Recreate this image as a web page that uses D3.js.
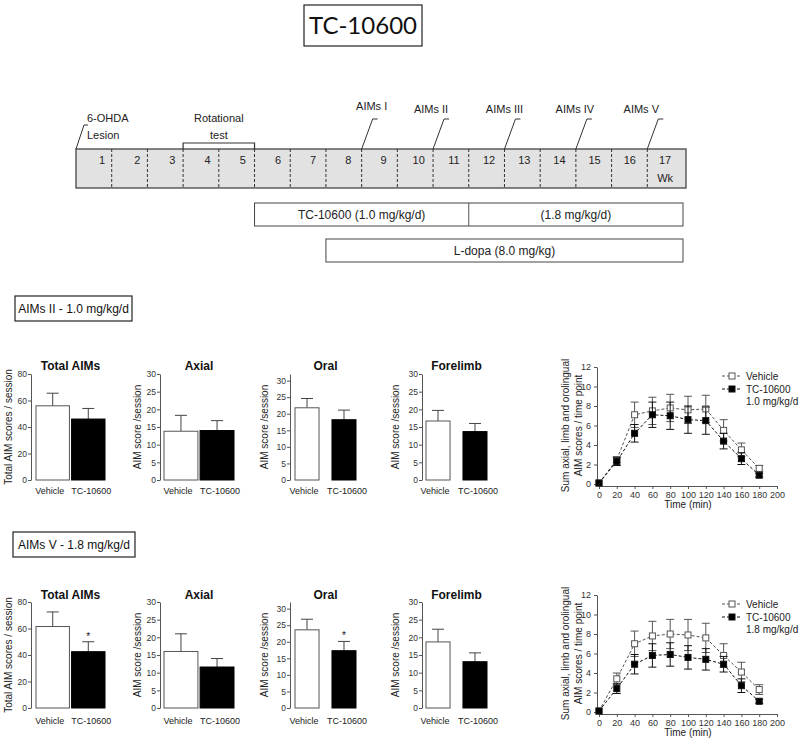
<!DOCTYPE html>
<html><head><meta charset="utf-8">
<script src="https://cdn.jsdelivr.net/npm/d3@7"></script>
<style>body{margin:0;background:#fff}svg{display:block}</style>
</head><body>
<svg id="c" width="800" height="745"></svg>
<script>
// ---------- DATA ----------
const figureTitle = "TC-10600";
const weeks = [1,2,3,4,5,6,7,8,9,10,11,12,13,14,15,16,17];
const aimsSessions = ["AIMs I","AIMs II","AIMs III","AIMs IV","AIMs V"];
const aimsSessionWeek = [8,10,12,14,16];          // boundary after this week
const rotationalTestWeeks = [3,5];
const tcDoseLabels = ["TC-10600 (1.0 mg/kg/d)","(1.8 mg/kg/d)"];
const tcDoseWeeks = [5,11,17];
const ldopaLabel = "L-dopa (8.0 mg/kg)";
const ldopaWeeks = [7,17];

const groups = ["Vehicle","TC-10600"];
const barPanels = ["Total AIMs","Axial","Oral","Forelimb"];
const barYLabels = ["Total AIM scores / session","AIM score /session","AIM score /session","AIM score /session"];
const barYMax = [80,30,32,30];
const barTicks = [[0,20,40,60,80],[0,5,10,15,20,25,30],[0,5,10,15,20,25,30],[0,5,10,15,20,25,30]];

const aims2VehMean = [56,13.8,21.8,16.7];
const aims2VehSem  = [9.5,4.5,2.8,3.0];
const aims2TcMean  = [46,14.0,18.2,13.7];
const aims2TcSem   = [8,2.8,2.9,2.3];
const aims2TcSig   = ["","","",""];

const aims5VehMean = [61.5,16.0,23.6,18.7];
const aims5VehSem  = [11,5.0,3.2,3.6];
const aims5TcMean  = [42.5,11.6,17.3,13.1];
const aims5TcSem   = [7.5,2.4,2.8,2.5];
const aims5TcSig   = ["*","","*",""];

const timePoints = [0,20,40,60,80,100,120,140,160,180];
const time2Veh    = [0.1,2.5,7.1,7.5,7.8,7.6,7.7,5.5,3.5,1.6];
const time2VehSem = [0,0.3,1.3,1.4,1.4,1.4,1.4,1.1,0.7,0.3];
const time2Tc     = [0.1,2.3,5.2,7.1,7.0,6.6,6.5,4.4,2.6,0.9];
const time2TcSem  = [0,0.4,0.9,1.3,1.4,1.4,1.4,0.8,0.6,0.2];

const time5Veh    = [0.1,3.4,7.0,7.8,8.0,7.9,7.6,5.8,4.1,2.3];
const time5VehSem = [0,0.6,1.3,1.5,1.5,1.6,1.5,1.2,1.0,0.5];
const time5Tc     = [0.1,2.4,4.9,5.8,5.9,5.6,5.4,4.9,2.7,1.1];
const time5TcSem  = [0,0.5,1.0,1.2,1.2,1.2,1.1,0.8,0.7,0.2];

const timeTicks = [0,20,40,60,80,100,120,140,160,180,200];
const scoreTicks = [0,2,4,6,8,10,12];
const sectionLabels = ["AIMs II - 1.0 mg/kg/d","AIMs V - 1.8 mg/kg/d"];
const legendDose = ["1.0 mg/kg/d","1.8 mg/kg/d"];

// ---------- DRAW ----------
const svg = d3.select("#c");
const F = "'Liberation Sans', Arial, sans-serif";
const ink = "#222";

// Title box
svg.append("rect").attr("x",304).attr("y",5).attr("width",118).attr("height",41)
  .attr("fill","none").attr("stroke",ink).attr("stroke-width",1.2);
svg.append("text").attr("x",363).attr("y",34).attr("text-anchor","middle")
  .attr("font-family","Lato, 'Open Sans', sans-serif").attr("font-size",24).attr("fill","#111").text(figureTitle);

// Timeline
const wk = d3.scaleLinear().domain([0,17]).range([76,683]);
const wkLabel = d3.scaleLinear().domain([1,17]).range([102,665]);
const tY0 = 149, tY1 = 188;
svg.append("rect").attr("x",wk(0)).attr("y",tY0).attr("width",wk(17)-wk(0)+3).attr("height",tY1-tY0)
  .attr("fill","#e2e2e2").attr("stroke","#444").attr("stroke-width",1.3);
svg.selectAll("line.wd").data(weeks.slice(0,-1)).join("line")
  .attr("x1",d=>wk(d)).attr("x2",d=>wk(d)).attr("y1",tY0).attr("y2",tY1)
  .attr("stroke","#333").attr("stroke-dasharray","3,2");
svg.selectAll("text.wn").data(weeks).join("text")
  .attr("x",d=>wkLabel(d)).attr("y",164).attr("text-anchor","middle")
  .attr("font-family",F).attr("font-size",11).attr("fill",ink).text(d=>d);
svg.append("text").attr("x",wk(16.5)).attr("y",182).attr("text-anchor","middle")
  .attr("font-family",F).attr("font-size",11).attr("fill",ink).text("Wk");

// Rotational test bracket
svg.append("path").attr("d",`M${wk(rotationalTestWeeks[0])},${tY0}V143H${wk(rotationalTestWeeks[1])}V${tY0}`)
  .attr("fill","none").attr("stroke","#333").attr("stroke-width",1.2);
const rtx = (wk(rotationalTestWeeks[0])+wk(rotationalTestWeeks[1]))/2;
svg.append("text").attr("x",rtx).attr("y",122).attr("text-anchor","middle").attr("font-family",F).attr("font-size",11).attr("fill",ink).text("Rotational");
svg.append("text").attr("x",rtx).attr("y",139).attr("text-anchor","middle").attr("font-family",F).attr("font-size",11).attr("fill",ink).text("test");

// 6-OHDA lesion
svg.append("path").attr("d",`M${wk(0)},${tY0}L${wk(0)+8},125H${wk(0)+12}`).attr("fill","none").attr("stroke","#333");
svg.append("text").attr("x",wk(0)+11).attr("y",122).attr("font-family",F).attr("font-size",11).attr("fill",ink).text("6-OHDA");
svg.append("text").attr("x",wk(0)+11).attr("y",139).attr("font-family",F).attr("font-size",11).attr("fill",ink).text("Lesion");

// AIMs sessions
const aimsTextShift = [10,-2,0,-1,-6];
aimsSessions.forEach((s,i)=>{
  const b = wk(aimsSessionWeek[i]);
  svg.append("path").attr("d",`M${b},${tY0}L${b+11},119H${b+16}`).attr("fill","none").attr("stroke","#333");
  svg.append("text").attr("x",b+aimsTextShift[i]).attr("y",i===0?110:113).attr("text-anchor","middle")
    .attr("font-family",F).attr("font-size",11).attr("fill",ink).text(s);
});

// Treatment boxes
const tb = svg.append("g").attr("font-family",F).attr("font-size",12).attr("fill",ink);
tb.append("rect").attr("x",wk(tcDoseWeeks[0])).attr("y",203).attr("width",wk(tcDoseWeeks[2])-wk(tcDoseWeeks[0])).attr("height",23)
  .attr("fill","#fff").attr("stroke","#444");
tb.append("line").attr("x1",wk(tcDoseWeeks[1])).attr("x2",wk(tcDoseWeeks[1])).attr("y1",203).attr("y2",226).attr("stroke","#555");
tcDoseLabels.forEach((l,i)=>{
  tb.append("text").attr("x",(wk(tcDoseWeeks[i])+wk(tcDoseWeeks[i+1]))/2).attr("y",219).attr("text-anchor","middle").text(l);
});
tb.append("rect").attr("x",wk(ldopaWeeks[0])).attr("y",239).attr("width",wk(ldopaWeeks[1])-wk(ldopaWeeks[0])).attr("height",23)
  .attr("fill","#fff").attr("stroke","#444");
tb.append("text").attr("x",(wk(ldopaWeeks[0])+wk(ldopaWeeks[1]))/2).attr("y",255).attr("text-anchor","middle").text(ldopaLabel);

// Section labels
const secBoxes = [[15,296,117,25],[13,532,122,25]];
sectionLabels.forEach((l,i)=>{
  const b = secBoxes[i];
  svg.append("rect").attr("x",b[0]).attr("y",b[1]).attr("width",b[2]).attr("height",b[3]).attr("fill","#fff").attr("stroke",ink).attr("stroke-width",1.2);
  svg.append("text").attr("x",b[0]+b[2]/2).attr("y",b[1]+17).attr("text-anchor","middle").attr("font-family",F).attr("font-size",12).attr("fill","#111").text(l);
});

// Bar panels
const axisX = [31,160,290,422];
const barRange = [[36,105],[164,234],[295,356],[426,487]];
const barPad = [0.06,0.06,0.35,0.35];
const labelShift = [-3,3];
const rows = [
  {bottom:480, top:374, title:370, xl:494, vm:aims2VehMean, vs:aims2VehSem, tm:aims2TcMean, ts:aims2TcSem, sig:aims2TcSig},
  {bottom:708, top:602, title:599, xl:724, vm:aims5VehMean, vs:aims5VehSem, tm:aims5TcMean, ts:aims5TcSem, sig:aims5TcSig}
];
rows.forEach(r=>{
  barPanels.forEach((p,i)=>{
    const g = svg.append("g");
    const y = d3.scaleLinear().domain([0,barYMax[i]]).range([r.bottom,r.top]);
    const x = d3.scaleBand().domain(groups).range(barRange[i]).paddingInner(barPad[i]).paddingOuter(0);
    const ax = g.append("g").attr("transform",`translate(${axisX[i]},0)`)
      .call(d3.axisLeft(y).tickValues(barTicks[i]).tickSize(3).tickSizeOuter(0));
    ax.select(".domain").attr("stroke","#555");
    ax.selectAll(".tick line").attr("stroke","#555");
    ax.selectAll(".tick text").attr("font-family",F).attr("font-size",8.5).attr("fill","#333").attr("x",-4);
    const means = [r.vm[i], r.tm[i]], sems = [r.vs[i], r.ts[i]];
    groups.forEach((gname,k)=>{
      const cx = x(gname)+x.bandwidth()/2;
      g.append("line").attr("x1",cx).attr("x2",cx).attr("y1",y(means[k])).attr("y2",y(means[k]+sems[k])).attr("stroke","#444");
      g.append("line").attr("x1",cx-6).attr("x2",cx+6).attr("y1",y(means[k]+sems[k])).attr("y2",y(means[k]+sems[k])).attr("stroke","#444");
    });
    g.selectAll("rect.b").data(groups).join("rect")
      .attr("x",d=>x(d)).attr("width",x.bandwidth())
      .attr("y",(d,k)=>y(means[k])).attr("height",(d,k)=>y(0)-y(means[k]))
      .attr("fill",(d,k)=>k===0?"#fff":"#000").attr("stroke",(d,k)=>k===0?"#555":"#000").attr("stroke-width",1);
    if (r.sig[i]) {
      const cx = x(groups[1])+x.bandwidth()/2;
      g.append("text").attr("x",cx).attr("y",y(means[1]+sems[1])-2).attr("text-anchor","middle")
        .attr("font-family",F).attr("font-size",10).attr("fill","#111").text(r.sig[i]);
    }
    g.selectAll("text.xl").data(groups).join("text")
      .attr("x",(d,k)=>x(d)+x.bandwidth()/2+labelShift[k]).attr("y",r.xl).attr("text-anchor","middle")
      .attr("font-family",F).attr("font-size",9).attr("fill","#222").text(d=>d);
    g.append("text").attr("x",(barRange[i][0]+barRange[i][1])/2).attr("y",r.title).attr("text-anchor","middle")
      .attr("font-family",F).attr("font-weight","bold").attr("font-size",12).attr("fill","#111").text(p);
    const yl = [12,141,268,399][i];
    g.append("text").attr("transform",`translate(${yl},${(r.bottom+r.top)/2}) rotate(-90)`).attr("text-anchor","middle")
      .attr("font-family",F).attr("font-size",10).attr("fill","#222").text(barYLabels[i]);
  });
});

// Line panels
const lineRows = [
  {bottom:484, top:367, veh:time2Veh, vs:time2VehSem, tc:time2Tc, ts:time2TcSem, dose:legendDose[0]},
  {bottom:712, top:595, veh:time5Veh, vs:time5VehSem, tc:time5Tc, ts:time5TcSem, dose:legendDose[1]}
];
lineRows.forEach(r=>{
  const g = svg.append("g");
  const x = d3.scaleLinear().domain([0,200]).range([599,777]);
  const y = d3.scaleLinear().domain([0,12]).range([r.bottom,r.top]);
  const xa = g.append("g").attr("transform",`translate(0,${r.bottom+2})`).call(d3.axisBottom(x).tickValues(timeTicks).tickSize(3).tickSizeOuter(0));
  const ya = g.append("g").attr("transform",`translate(${x(0)-2},0)`).call(d3.axisLeft(y).tickValues(scoreTicks).tickSize(3).tickSizeOuter(0));
  [xa,ya].forEach(a=>{
    a.select(".domain").attr("stroke","#555");
    a.selectAll(".tick line").attr("stroke","#555");
    a.selectAll(".tick text").attr("font-family",F).attr("font-size",9).attr("fill","#333");
  });
  g.append("text").attr("x",x(100)).attr("y",r.bottom+24).attr("text-anchor","middle").attr("font-family",F).attr("font-size",10).attr("fill","#222").text("Time (min)");
  const yc = (r.bottom+r.top)/2;
  g.append("text").attr("transform",`translate(569,${yc}) rotate(-90)`).attr("text-anchor","middle").attr("font-family",F).attr("font-size",10).attr("fill","#222").text("Sum axial, limb and orolingual");
  g.append("text").attr("transform",`translate(582,${yc}) rotate(-90)`).attr("text-anchor","middle").attr("font-family",F).attr("font-size",10).attr("fill","#222").text("AIM scores / time point");

  const series = [
    {m:r.veh, s:r.vs, color:"#555", fill:"#fff"},
    {m:r.tc, s:r.ts, color:"#111", fill:"#000"}
  ];
  series.forEach(sr=>{
    const line = d3.line().x((d,k)=>x(timePoints[k])).y(d=>y(d));
    g.append("path").attr("d",line(sr.m)).attr("fill","none").attr("stroke",sr.color).attr("stroke-width",1).attr("stroke-dasharray","3,2");
    sr.m.forEach((v,k)=>{
      if (sr.s[k] > 0) {
        const cx = x(timePoints[k]);
        g.append("line").attr("x1",cx).attr("x2",cx).attr("y1",y(v-sr.s[k])).attr("y2",y(v+sr.s[k])).attr("stroke",sr.color);
        [v-sr.s[k], v+sr.s[k]].forEach(e=>g.append("line").attr("x1",cx-4).attr("x2",cx+4).attr("y1",y(e)).attr("y2",y(e)).attr("stroke",sr.color));
      }
    });
    g.selectAll(null).data(sr.m).join("rect")
      .attr("x",(d,k)=>x(timePoints[k])-3).attr("y",d=>y(d)-3).attr("width",6).attr("height",6)
      .attr("fill",sr.fill).attr("stroke",sr.color);
  });
  const ly = [r.top+9, r.top+22];
  groups.forEach((n,k)=>{
    const s = series[k];
    g.append("line").attr("x1",722).attr("x2",742).attr("y1",ly[k]).attr("y2",ly[k]).attr("stroke",s.color).attr("stroke-dasharray","3,2");
    g.append("rect").attr("x",729).attr("y",ly[k]-3).attr("width",6).attr("height",6).attr("fill",s.fill).attr("stroke",s.color);
    g.append("text").attr("x",746).attr("y",ly[k]+4).attr("font-family",F).attr("font-size",10).attr("fill","#222").text(n);
  });
  g.append("text").attr("x",746).attr("y",r.top+38).attr("font-family",F).attr("font-size",10).attr("fill","#222").text(r.dose);
});
</script>
</body></html>
